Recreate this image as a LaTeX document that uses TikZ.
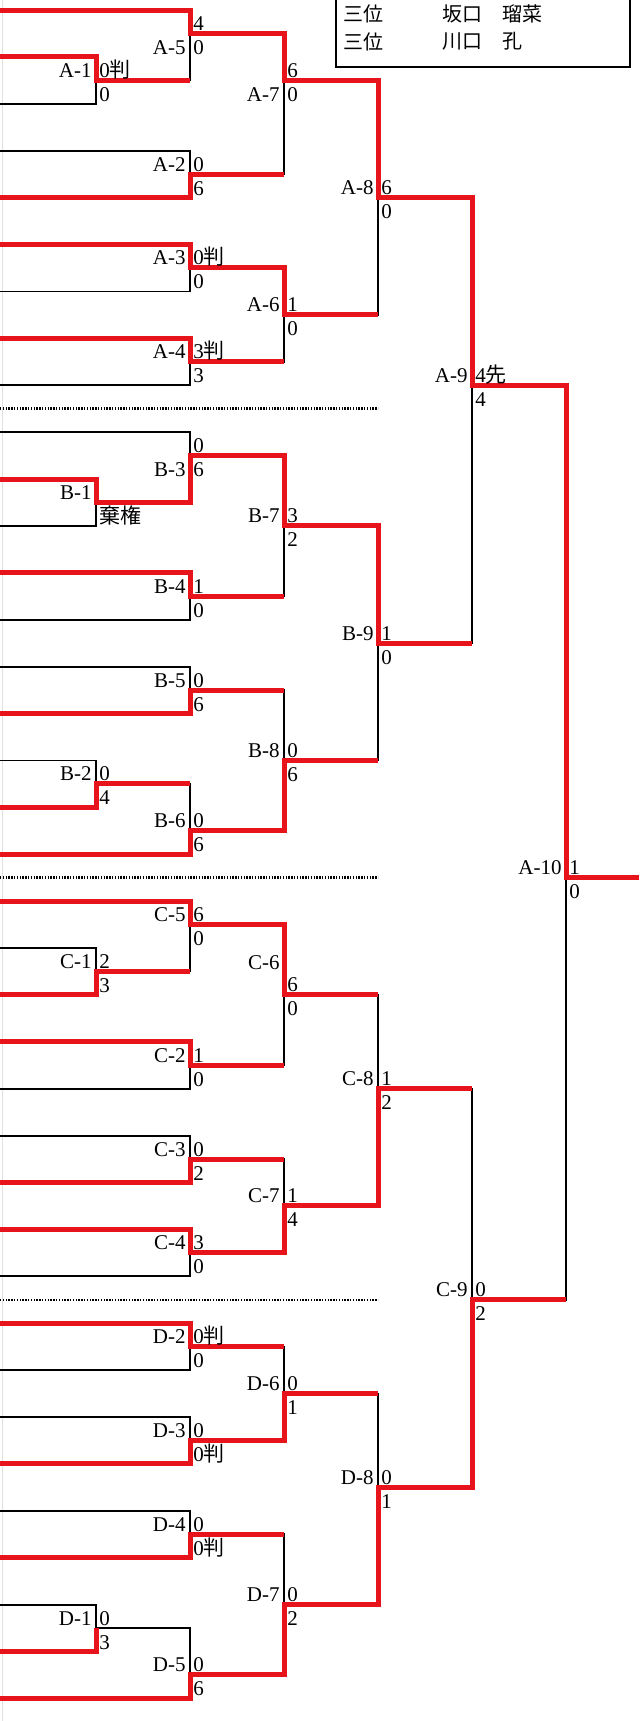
\documentclass[tikz,border=0pt]{standalone}
\usepackage{fontspec}
\setmainfont{Liberation Serif}
\newfontfamily\jpfont{Noto Sans CJK JP}
\definecolor{winred}{RGB}{232,20,28}
\begin{document}
\begin{tikzpicture}[x=0.5pt,y=-11.725pt,font=\fontsize{10.5}{12}\selectfont,
  lose/.style={black,line width=.9pt},
  win/.style={winred,line width=2.5pt},
  divline/.style={black,line width=1.2pt,dash pattern=on .7pt off .7pt},
  mlbl/.style={anchor=base east,inner sep=0pt,xshift=-2pt,yshift=1.5pt},
  mlbldn/.style={anchor=base east,inner sep=0pt,xshift=-2pt,yshift=-10.5pt},
  sctop/.style={anchor=base west,inner sep=0pt,xshift=1.5pt,yshift=1.5pt},
  scbot/.style={anchor=base west,inner sep=0pt,xshift=1.5pt,yshift=-10.5pt},
  legtext/.style={anchor=west,inner sep=0pt,font=\fontsize{10}{12}\selectfont\jpfont}]
\path[use as bounding box,fill=white] (0,-0.4264) rectangle (639,72.964);
\draw[black!12,line width=.4pt] (2,-0.4264) -- (2,72.964);
\draw[lose] (0,2) -| (96,4) -- (0,4);
\draw[lose] (0,0) -| (190,3) -- (96,3);
\draw[lose] (0,6) -| (190,8) -- (0,8);
\draw[lose] (190,1) -| (284,7) -- (190,7);
\draw[lose] (0,10) -| (190,12) -- (0,12);
\draw[lose] (0,14) -| (190,16) -- (0,16);
\draw[lose] (190,11) -| (284,15) -- (190,15);
\draw[lose] (284,3) -| (378,13) -- (284,13);
\draw[lose] (0,20) -| (96,22) -- (0,22);
\draw[lose] (0,18) -| (190,21) -- (96,21);
\draw[lose] (0,24) -| (190,26) -- (0,26);
\draw[lose] (190,19) -| (284,25) -- (190,25);
\draw[lose] (0,28) -| (190,30) -- (0,30);
\draw[lose] (0,32) -| (96,34) -- (0,34);
\draw[lose] (96,33) -| (190,36) -- (0,36);
\draw[lose] (190,29) -| (284,35) -- (190,35);
\draw[lose] (284,22) -| (378,32) -- (284,32);
\draw[lose] (378,8) -| (472,27) -- (378,27);
\draw[lose] (0,40) -| (96,42) -- (0,42);
\draw[lose] (0,38) -| (190,41) -- (96,41);
\draw[lose] (0,44) -| (190,46) -- (0,46);
\draw[lose] (190,39) -| (284,45) -- (190,45);
\draw[lose] (0,48) -| (190,50) -- (0,50);
\draw[lose] (0,52) -| (190,54) -- (0,54);
\draw[lose] (190,49) -| (284,53) -- (190,53);
\draw[lose] (284,42) -| (378,51) -- (284,51);
\draw[lose] (0,56) -| (190,58) -- (0,58);
\draw[lose] (0,60) -| (190,62) -- (0,62);
\draw[lose] (190,57) -| (284,61) -- (190,61);
\draw[lose] (0,64) -| (190,66) -- (0,66);
\draw[lose] (0,68) -| (96,70) -- (0,70);
\draw[lose] (96,69) -| (190,72) -- (0,72);
\draw[lose] (190,65) -| (284,71) -- (190,71);
\draw[lose] (284,59) -| (378,68) -- (284,68);
\draw[lose] (378,46) -| (472,63) -- (378,63);
\draw[lose] (472,16) -| (566,55) -- (472,55);
\draw[divline] (0,17) -- (378,17);
\draw[divline] (0,37) -- (378,37);
\draw[divline] (0,55) -- (378,55);
\draw[win] (0,0) -| (190,1) -| (284,3) -| (378,8) -| (472,16) -| (566,37) -- (639,37);
\draw[win] (0,2) -| (96,3) -- (190,3);
\draw[win] (0,8) -| (190,7) -- (284,7);
\draw[win] (0,10) -| (190,11) -| (284,13) -- (378,13);
\draw[win] (0,14) -| (190,15) -- (284,15);
\draw[win] (0,20) -| (96,21) -| (190,19) -| (284,22) -| (378,27) -- (472,27);
\draw[win] (0,24) -| (190,25) -- (284,25);
\draw[win] (0,30) -| (190,29) -- (284,29);
\draw[win] (0,34) -| (96,33) -- (190,33);
\draw[win] (0,36) -| (190,35) -| (284,32) -- (378,32);
\draw[win] (0,38) -| (190,39) -| (284,42) -- (378,42);
\draw[win] (0,42) -| (96,41) -- (190,41);
\draw[win] (0,44) -| (190,45) -- (284,45);
\draw[win] (0,50) -| (190,49) -- (284,49);
\draw[win] (0,52) -| (190,53) -| (284,51) -| (378,46) -- (472,46);
\draw[win] (0,56) -| (190,57) -- (284,57);
\draw[win] (0,62) -| (190,61) -| (284,59) -- (378,59);
\draw[win] (0,66) -| (190,65) -- (284,65);
\draw[win] (0,70) -| (96,69);
\draw[win] (0,72) -| (190,71) -| (284,68) -| (378,63) -| (472,55) -- (566,55);
\node[mlbl] (a1) at (96,3) {A-1};
\node[sctop] (a1t) at (96,3) {0{\jpfont 判}};
\node[scbot] (a1b) at (96,3) {0};
\node[mlbldn] (a5) at (190,1) {A-5};
\node[sctop] (a5t) at (190,1) {4};
\node[scbot] (a5b) at (190,1) {0};
\node[mlbl] (a2) at (190,7) {A-2};
\node[sctop] (a2t) at (190,7) {0};
\node[scbot] (a2b) at (190,7) {6};
\node[mlbldn] (a7) at (284,3) {A-7};
\node[sctop] (a7t) at (284,3) {6};
\node[scbot] (a7b) at (284,3) {0};
\node[mlbl] (a3) at (190,11) {A-3};
\node[sctop] (a3t) at (190,11) {0{\jpfont 判}};
\node[scbot] (a3b) at (190,11) {0};
\node[mlbl] (a4) at (190,15) {A-4};
\node[sctop] (a4t) at (190,15) {3{\jpfont 判}};
\node[scbot] (a4b) at (190,15) {3};
\node[mlbl] (a6) at (284,13) {A-6};
\node[sctop] (a6t) at (284,13) {1};
\node[scbot] (a6b) at (284,13) {0};
\node[mlbl] (a8) at (378,8) {A-8};
\node[sctop] (a8t) at (378,8) {6};
\node[scbot] (a8b) at (378,8) {0};
\node[mlbl] (a9) at (472,16) {A-9};
\node[sctop] (a9t) at (472,16) {4{\jpfont 先}};
\node[scbot] (a9b) at (472,16) {4};
\node[mlbl] (b1) at (96,21) {B-1};
\node[scbot] (b1b) at (96,21) {\jpfont 棄権};
\node[mlbldn] (b3) at (190,19) {B-3};
\node[sctop] (b3t) at (190,19) {0};
\node[scbot] (b3b) at (190,19) {6};
\node[mlbl] (b4) at (190,25) {B-4};
\node[sctop] (b4t) at (190,25) {1};
\node[scbot] (b4b) at (190,25) {0};
\node[mlbl] (b7) at (284,22) {B-7};
\node[sctop] (b7t) at (284,22) {3};
\node[scbot] (b7b) at (284,22) {2};
\node[mlbl] (b5) at (190,29) {B-5};
\node[sctop] (b5t) at (190,29) {0};
\node[scbot] (b5b) at (190,29) {6};
\node[mlbl] (b2) at (96,33) {B-2};
\node[sctop] (b2t) at (96,33) {0};
\node[scbot] (b2b) at (96,33) {4};
\node[mlbl] (b6) at (190,35) {B-6};
\node[sctop] (b6t) at (190,35) {0};
\node[scbot] (b6b) at (190,35) {6};
\node[mlbl] (b8) at (284,32) {B-8};
\node[sctop] (b8t) at (284,32) {0};
\node[scbot] (b8b) at (284,32) {6};
\node[mlbl] (b9) at (378,27) {B-9};
\node[sctop] (b9t) at (378,27) {1};
\node[scbot] (b9b) at (378,27) {0};
\node[mlbl] (a10) at (566,37) {A-10};
\node[sctop] (a10t) at (566,37) {1};
\node[scbot] (a10b) at (566,37) {0};
\node[mlbl] (c5) at (190,39) {C-5};
\node[sctop] (c5t) at (190,39) {6};
\node[scbot] (c5b) at (190,39) {0};
\node[mlbl] (c1) at (96,41) {C-1};
\node[sctop] (c1t) at (96,41) {2};
\node[scbot] (c1b) at (96,41) {3};
\node[mlbl] (c2) at (190,45) {C-2};
\node[sctop] (c2t) at (190,45) {1};
\node[scbot] (c2b) at (190,45) {0};
\node[mlbl,yshift=11pt] (c6) at (284,42) {C-6};
\node[sctop] (c6t) at (284,42) {6};
\node[scbot] (c6b) at (284,42) {0};
\node[mlbl] (c3) at (190,49) {C-3};
\node[sctop] (c3t) at (190,49) {0};
\node[scbot] (c3b) at (190,49) {2};
\node[mlbl] (c4) at (190,53) {C-4};
\node[sctop] (c4t) at (190,53) {3};
\node[scbot] (c4b) at (190,53) {0};
\node[mlbl] (c7) at (284,51) {C-7};
\node[sctop] (c7t) at (284,51) {1};
\node[scbot] (c7b) at (284,51) {4};
\node[mlbl] (c8) at (378,46) {C-8};
\node[sctop] (c8t) at (378,46) {1};
\node[scbot] (c8b) at (378,46) {2};
\node[mlbl] (c9) at (472,55) {C-9};
\node[sctop] (c9t) at (472,55) {0};
\node[scbot] (c9b) at (472,55) {2};
\node[mlbl] (d2) at (190,57) {D-2};
\node[sctop] (d2t) at (190,57) {0{\jpfont 判}};
\node[scbot] (d2b) at (190,57) {0};
\node[mlbl] (d3) at (190,61) {D-3};
\node[sctop] (d3t) at (190,61) {0};
\node[scbot] (d3b) at (190,61) {0{\jpfont 判}};
\node[mlbl] (d6) at (284,59) {D-6};
\node[sctop] (d6t) at (284,59) {0};
\node[scbot] (d6b) at (284,59) {1};
\node[mlbl] (d4) at (190,65) {D-4};
\node[sctop] (d4t) at (190,65) {0};
\node[scbot] (d4b) at (190,65) {0{\jpfont 判}};
\node[mlbl] (d1) at (96,69) {D-1};
\node[sctop] (d1t) at (96,69) {0};
\node[scbot] (d1b) at (96,69) {3};
\node[mlbl] (d5) at (190,71) {D-5};
\node[sctop] (d5t) at (190,71) {0};
\node[scbot] (d5b) at (190,71) {6};
\node[mlbl] (d7) at (284,68) {D-7};
\node[sctop] (d7t) at (284,68) {0};
\node[scbot] (d7b) at (284,68) {2};
\node[mlbl] (d8) at (378,63) {D-8};
\node[sctop] (d8t) at (378,63) {0};
\node[scbot] (d8b) at (378,63) {1};
\draw[black,line width=1pt] (336,-1) |- (630,2.43) -- (630,-1);
\node[legtext] (rank1) at (343,0.15) {三位};
\node[legtext] (name1) at (442,0.15) {坂口　瑠菜};
\node[legtext] (rank2) at (343,1.35) {三位};
\node[legtext] (name2) at (442,1.35) {川口　孔};
\end{tikzpicture}
\end{document}
